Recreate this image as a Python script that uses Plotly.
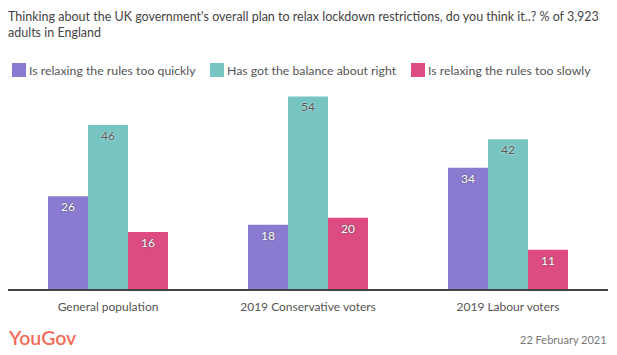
import plotly.graph_objects as go

categories = ["General population", "2019 Conservative voters", "2019 Labour voters"]
series_names = ["Is relaxing the rules too quickly", "Has got the balance about right", "Is relaxing the rules too slowly"]
too_quickly = [26, 18, 34]
about_right = [46, 54, 42]
too_slowly = [16, 20, 11]
title_text = "Thinking about the UK government's overall plan to relax lockdown restrictions, do you think it..? % of 3,923<br>adults in England"
date_text = "22 February 2021"

colors = ["#8a7bd1", "#76c5c3", "#dc4c83"]
label_colors = ["#ffffff", "#555555", "#ffffff"]
label_shadows = ["0px 0px 2px #444", "0px 0px 2px #fff", "0px 0px 2px #444"]
values = [too_quickly, about_right, too_slowly]

W, H = 617, 355
L, R, T, B = 8, 9, 90, 66
PW, PH = W - L - R, H - T - B

def px(x):
    return (x - L) / PW

def py(y):
    return (H - B - y) / PH

fig = go.Figure()
for name, vals, c, lc, sh in zip(series_names, values, colors, label_colors, label_shadows):
    fig.add_trace(go.Bar(
        x=categories, y=vals, name=name, marker=dict(color=c, line=dict(width=0)),
        text=[str(v) for v in vals], textposition="inside", insidetextanchor="end",
        textfont=dict(color=lc, size=12, family="Lato", shadow=sh),
        showlegend=False, hoverinfo="skip",
    ))

# manual legend
leg_x = [12, 210, 411]
for (x0, name, c) in zip(leg_x, series_names, colors):
    fig.add_shape(type="rect", xref="paper", yref="paper",
                  x0=px(x0), x1=px(x0 + 14), y0=py(77), y1=py(63),
                  fillcolor=c, line=dict(width=0))
    fig.add_annotation(xref="paper", yref="paper", x=px(x0 + 15), y=py(70),
                       text=name, showarrow=False, xanchor="left", yanchor="middle",
                       font=dict(family="Lato", size=12.3, color="#555555"))

fig.add_annotation(xref="paper", yref="paper", x=px(6), y=py(7), text=title_text,
                   showarrow=False, xanchor="left", yanchor="top", align="left",
                   font=dict(family="Lato", size=12.5, color="#444444"))
fig.add_annotation(xref="paper", yref="paper", x=px(609), y=py(339), text=date_text,
                   showarrow=False, xanchor="right", yanchor="middle",
                   font=dict(family="Lato", size=11, color="#777777"))
fig.add_annotation(xref="paper", yref="paper", x=px(6), y=py(337), text="YouGov",
                   showarrow=False, xanchor="left", yanchor="middle",
                   font=dict(family="Lato", size=19.5, color="#f26b5b", weight=600))

fig.update_layout(
    width=W, height=H, margin=dict(l=L, r=R, t=T, b=B),
    barmode="group", bargap=0.4, bargroupgap=0,
    plot_bgcolor="white", paper_bgcolor="white",
    font=dict(family="Lato", color="#555555"),
    xaxis=dict(showline=True, linecolor="#444444", linewidth=1.5, ticks="",
               ticklabelstandoff=6,
               tickfont=dict(size=12, color="#555555"), fixedrange=True),
    yaxis=dict(range=[0, 55.8], visible=False, showgrid=False, fixedrange=True),
    uniformtext=dict(minsize=8, mode="show"),
)
fig.write_html("out.html", config={"displayModeBar": False},
               post_script="document.body.style.margin='0';")
